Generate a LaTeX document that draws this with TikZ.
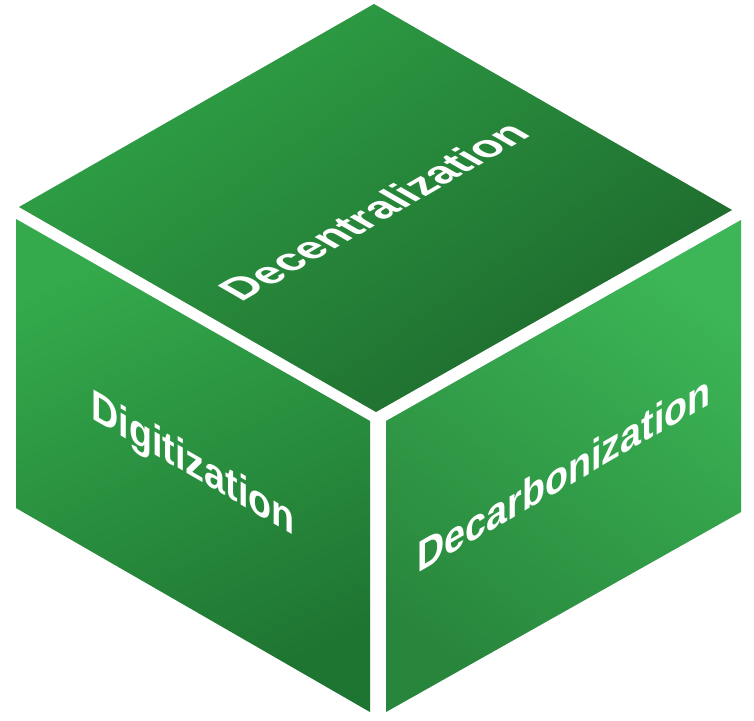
\documentclass[tikz,border=0pt]{standalone}
\usepackage{fontspec}
\setmainfont{Liberation Sans}
\begin{document}
\begin{tikzpicture}[x=1pt,y=-1pt,
  lbl/.style={text=white,font=\bfseries\fontsize{43.5}{47}\selectfont,inner sep=0pt,transform shape},
  shadowface/.style={fill=black!40,opacity=0.35}]
\useasboundingbox (0,0) rectangle (754,720);
% corner coordinates
\coordinate (T1) at (19,207);  \coordinate (T2) at (374,4);
\coordinate (T3) at (732,210); \coordinate (T4) at (376,412);
\coordinate (L1) at (16,219);  \coordinate (L2) at (370,421);
\coordinate (L3) at (370,712); \coordinate (L4) at (16,508);
\coordinate (R1) at (386,421); \coordinate (R2) at (741,220);
\coordinate (R3) at (741,512); \coordinate (R4) at (386,712);
% soft shadows
\begin{scope}[shift={(2,3)}]
\fill[shadowface] (T1)--(T2)--(T3)--(T4)--cycle;
\fill[shadowface] (L1)--(L2)--(L3)--(L4)--cycle;
\fill[shadowface] (R1)--(R2)--(R3)--(R4)--cycle;
\end{scope}
% faces
\shade[top color={rgb,255:red,47;green,163;blue,71},bottom color={rgb,255:red,29;green,104;blue,44},shading angle=35]
  (T1)--(T2)--(T3)--(T4)--cycle;
\shade[top color={rgb,255:red,52;green,170;blue,76},bottom color={rgb,255:red,30;green,116;blue,49},shading angle=25]
  (L1)--(L2)--(L3)--(L4)--cycle;
\shade[top color={rgb,255:red,60;green,182;blue,86},bottom color={rgb,255:red,40;green,134;blue,60},shading angle=-35]
  (R1)--(R2)--(R3)--(R4)--cycle;
% labels
\begin{scope}[cm={0.866,0.5,-0.866,0.5,(374,211)}]
\node[lbl] (dece) at (0,0) {Decentralization};
\end{scope}
\begin{scope}[cm={0.866,-0.5,0,1,(193,466)}]
\node[lbl] (digi) at (0,0) {Digitization};
\end{scope}
\begin{scope}[cm={0.866,0.5,0,1,(564,473)}]
\node[lbl] (deca) at (0,0) {Decarbonization};
\end{scope}
\end{tikzpicture}
\end{document}
